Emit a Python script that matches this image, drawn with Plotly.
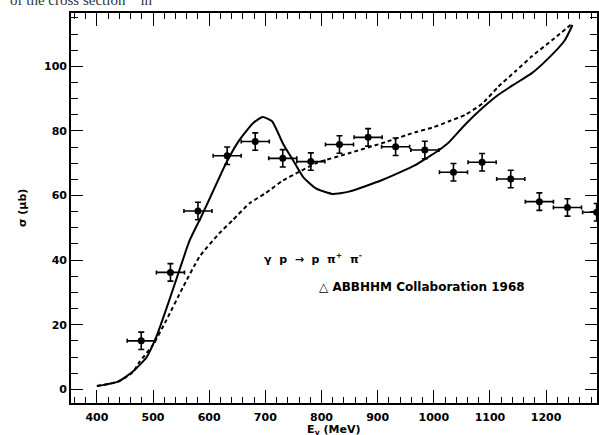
import plotly.graph_objects as go

# Data points (ABBHHM Collaboration 1968)
data_E = [479, 531, 580, 632, 682, 731, 781, 832, 883, 932, 984, 1035, 1086, 1137, 1188, 1238, 1290]
data_sigma = [15.0, 36.2, 55.2, 72.3, 76.7, 71.5, 70.5, 75.8, 78.0, 75.1, 74.1, 67.2, 70.3, 65.1, 58.1, 56.3, 54.8]
data_xerr = [25] * 17
data_yerr = [2.7] * 17

# Solid theory curve
solid_E = [400, 438, 464, 488, 506, 527, 547, 565, 586, 606, 630, 654, 678, 695, 712, 731, 749,
           767, 790, 819, 849, 908, 967, 991, 1009, 1026, 1056, 1086, 1115, 1145, 1174, 1203, 1233, 1247]
solid_sigma = [1.0, 2.4, 5.5, 9.8, 16.3, 26.6, 36.9, 46.0, 53.5, 61.0, 70.0, 77.2, 82.4, 84.3, 83.0,
               76.2, 71.0, 65.8, 62.2, 60.5, 61.2, 64.8, 69.4, 72.0, 74.0, 76.3, 82.0, 87.0, 91.2,
               94.6, 97.8, 102.3, 108.0, 112.8]

# Dashed theory curve
dashed_E = [400, 438, 464, 476, 500, 524, 553, 583, 618, 642, 672, 701, 731, 760, 790, 849, 908,
            967, 997, 1026, 1056, 1086, 1115, 1145, 1174, 1215, 1247]
dashed_sigma = [1.0, 2.4, 5.3, 8.5, 13.8, 21.5, 31.5, 41.1, 48.3, 52.4, 57.6, 60.8, 64.6, 67.3,
                70.0, 73.1, 76.2, 79.6, 81.0, 82.9, 85.0, 88.4, 93.7, 98.4, 103.0, 108.7, 113.3]

FONT = "DejaVu Sans"

fig = go.Figure()
fig.add_trace(go.Scatter(x=solid_E, y=solid_sigma, mode="lines",
                         line=dict(color="black", width=2, shape="spline", smoothing=0.5),
                         showlegend=False))
fig.add_trace(go.Scatter(x=dashed_E, y=dashed_sigma, mode="lines",
                         line=dict(color="black", width=2, dash="4px,3px", shape="spline", smoothing=0.5),
                         showlegend=False))
fig.add_trace(go.Scatter(x=data_E, y=data_sigma, mode="markers",
                         marker=dict(color="black", size=7, symbol="circle"),
                         error_x=dict(type="data", array=data_xerr, color="black", thickness=1.6, width=2),
                         error_y=dict(type="data", array=data_yerr, color="black", thickness=1.6, width=3),
                         showlegend=False))

axis_common = dict(showline=True, linecolor="black", linewidth=1.6, mirror="ticks",
                   ticks="inside", tickcolor="black", tickwidth=1.4, showgrid=False, zeroline=False,
                   tickfont=dict(family=FONT, size=11, color="black", weight="bold"))

fig.update_xaxes(range=[353.9, 1290.6], tick0=400, dtick=100, ticklen=13, ticklabelstandoff=3,
                 minor=dict(dtick=20, tick0=400, ticklen=6, ticks="inside", tickcolor="black", tickwidth=1.2),
                 **axis_common)
fig.update_yaxes(range=[-4.24, 116.5], tick0=0, dtick=20, ticklen=12, ticklabelstandoff=0,
                 minor=dict(dtick=5, tick0=0, ticklen=7, ticks="inside", tickcolor="black", tickwidth=1.2),
                 **axis_common)

ann_font = dict(family=FONT, size=11, color="black", weight="bold")
fig.add_annotation(xref="x", yref="y", x=694, y=40.6, xanchor="left", yanchor="middle", showarrow=False,
                   text="γ  p  →  p  π<sup>+</sup>  π<sup>-</sup>", font=ann_font)
fig.add_annotation(xref="x", yref="y", x=792, y=31.6, xanchor="left", yanchor="middle", showarrow=False,
                   text="△ ABBHHM Collaboration 1968", font=dict(family=FONT, size=12, color="black", weight="bold"))
fig.add_annotation(xref="paper", yref="paper", x=-0.093, y=0.5, xanchor="center", yanchor="middle",
                   showarrow=False, textangle=-90, text="σ (μb)", font=ann_font)
fig.add_annotation(xref="paper", yref="paper", x=0.5, y=-0.068, xanchor="center", yanchor="middle",
                   showarrow=False, borderpad=0, text="E<sub>γ</sub> (MeV)", font=ann_font)
fig.add_annotation(xref="paper", yref="paper", x=-0.12, y=1.033, xanchor="left", yanchor="middle",
                   showarrow=False, text="of the cross section    in",
                   font=dict(family="Liberation Serif", size=15, color="#333333"))

fig.update_layout(width=599, height=435, margin=dict(l=71, r=0, t=13, b=32),
                  paper_bgcolor="white", plot_bgcolor="white")

fig.write_html("out.html", config={"displayModeBar": False},
               post_script="document.body.style.margin='0';document.body.style.overflow='hidden';")
